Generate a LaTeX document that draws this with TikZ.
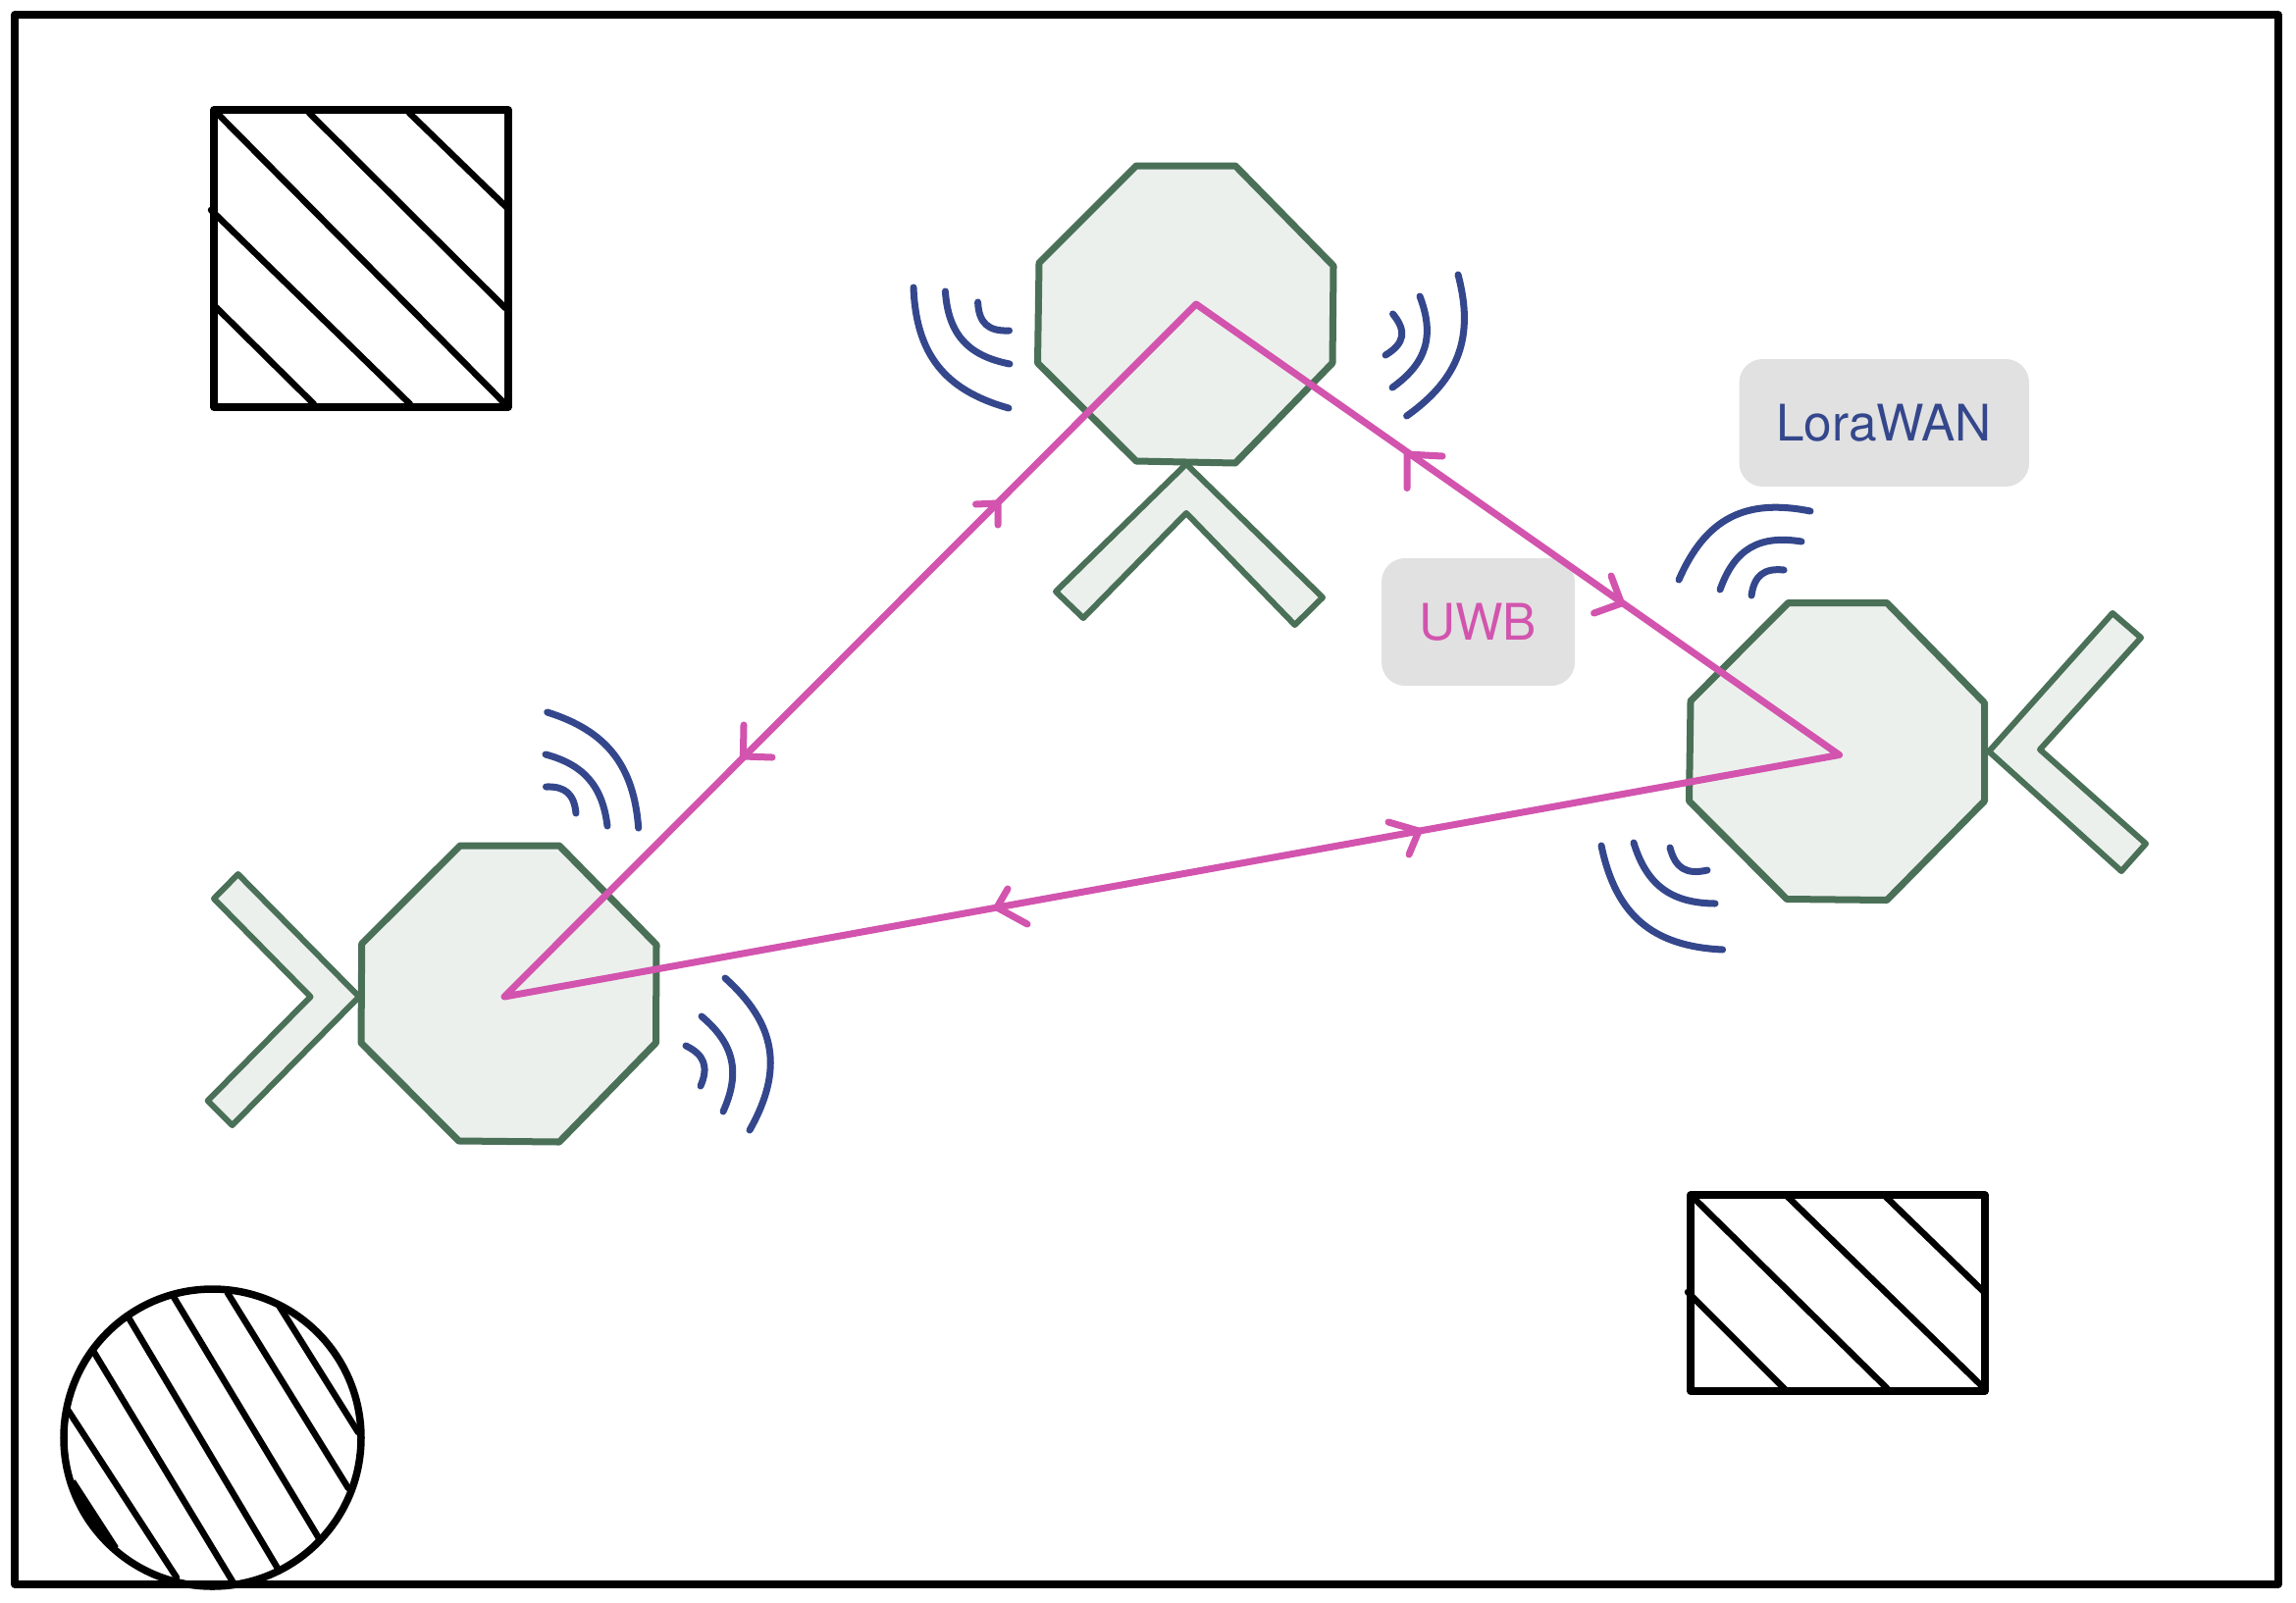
\documentclass[tikz,border=0pt]{standalone}
\usepackage{fontspec}
\setmainfont{TeX Gyre Heros}
\usetikzlibrary{calc}
\definecolor{gstroke}{HTML}{4A7058}
\definecolor{gfill}{HTML}{ECF0EC}
\definecolor{wblue}{HTML}{34478C}
\definecolor{upink}{HTML}{D254AE}
\definecolor{lblbox}{HTML}{E1E1E1}
\newcommand{\wavearc}[3]{\draw[wavestyle] (#1) .. controls ($(#1)!0.7!(#2)$) and ($(#3)!0.7!(#2)$) .. (#3);}
\newcommand{\barbs}[3]{\draw[linkstyle] (#1) -- (#2) (#1) -- (#3);}
\tikzset{
  framestyle/.style={draw=black,line width=0.075cm,line join=round,line cap=round},
  hatchstyle/.style={draw=black,line width=0.065cm,line cap=round},
  devstyle/.style={draw=gstroke,fill=gfill,line width=0.07cm,line join=round},
  forkstyle/.style={draw=gstroke,fill=gfill,line width=0.06cm,line join=round},
  wavestyle/.style={draw=wblue,line width=0.07cm,line cap=round},
  linkstyle/.style={draw=upink,line width=0.07cm,line cap=round,line join=round},
  lblstyle/.style={fill=lblbox,rounded corners=0.24cm},
  lbltext/.style={font=\fontsize{14.6pt}{16pt}\selectfont},
}
\begin{document}
\begin{tikzpicture}[x=0.01cm,y=-0.01cm]
\useasboundingbox (0,0) rectangle (2340,1633);
\fill[white] (0,0) rectangle (2340,1633);
% outer frame
\draw[framestyle] (15,15) rectangle (2322,1615);
% hatched square
\draw[framestyle] (218,112) rectangle (518,415);
\draw[hatchstyle] (218,112) -- (518,415);
\draw[hatchstyle] (315,115) -- (515,314);
\draw[hatchstyle] (417,115) -- (518,213);
\draw[hatchstyle] (215,214) -- (418,412);
\draw[hatchstyle] (220,313) -- (320,412);
% hatched rectangle
\draw[framestyle] (1723,1218) rectangle (2023,1418);
\draw[hatchstyle] (1723,1218) -- (1923,1415);
\draw[hatchstyle] (1820,1218) -- (2022,1415);
\draw[hatchstyle] (1922,1220) -- (2022,1317);
\draw[hatchstyle] (1720,1317) -- (1820,1417);
% hatched circle
\draw[framestyle] (216.5,1465.5) circle[radius=151.5];
\draw[hatchstyle] (285,1332) -- (365,1460);
\draw[hatchstyle] (232,1318) -- (355,1517);
\draw[hatchstyle] (177,1322) -- (325,1568);
\draw[hatchstyle] (131,1343) -- (282,1597);
\draw[hatchstyle] (95,1377) -- (237,1612);
\draw[hatchstyle] (69,1437) -- (180,1608);
\draw[hatchstyle,fill=black] (74,1510) -- (118,1578) .. controls (100,1560) and (84,1535) .. cycle;
% label boxes
\path[lblstyle] (1772.5,366) rectangle (2068,496);
\path[lblstyle] (1408,569) rectangle (1605,699);
\node[text=wblue,lbltext] (lora) at (1920,431.5) {LoraWAN};
\node[text=upink,lbltext] (uwb) at (1506,634.5) {UWB};
% left device
\draw[forkstyle] (366,1016) -- (242.6,891) -- (218,916) -- (316.5,1016) -- (211.7,1122) -- (236.7,1147) -- cycle;
\draw[devstyle] (469,862) -- (570,862) -- (669,963) -- (668.5,1063) -- (570,1164) -- (467.6,1163) -- (368,1063) -- (368.7,962) -- cycle;
% top device
\draw[forkstyle] (1209,473) -- (1076,603) -- (1104,630) -- (1209,523) -- (1319.6,637) -- (1348,609) -- cycle;
\draw[devstyle] (1158,169) -- (1259,169) -- (1359,271) -- (1358,370) -- (1259,472) -- (1158,470) -- (1057.5,370) -- (1059,268) -- cycle;
% right device
\draw[forkstyle] (2027,766) -- (2153,625) -- (2182,650) -- (2079,764) -- (2187,860) -- (2162,888) -- cycle;
\draw[devstyle] (1822.5,614.5) -- (1923,614.5) -- (2022.5,716.5) -- (2022.5,816.5) -- (1923,917.5) -- (1821,916.5) -- (1721.5,816.5) -- (1723,714.5) -- cycle;
% waves, left device
\wavearc{557.7,726}{644,753}{650.7,844}
\wavearc{556,769}{612,784}{619,842}
\wavearc{556.5,802}{584.4,801}{587,829}
\wavearc{739,997}{813.6,1064}{764,1152}
\wavearc{715,1036}{762.6,1076}{737,1133}
\wavearc{699,1066}{726,1079}{714,1107}
% waves, top device
\wavearc{931,293}{934.7,390}{1028,416}
\wavearc{963.4,297}{967.8,359}{1029,371}
\wavearc{996.6,308}{998,338.4}{1028.5,337}
\wavearc{1486,280}{1510,370}{1433.6,424}
\wavearc{1447,302}{1469,359.5}{1419,395}
\wavearc{1419.5,320}{1440,345}{1412,362}
% waves, right device
\wavearc{1711,591}{1749.8,502}{1845,521}
\wavearc{1753,601}{1774,542}{1836,552}
\wavearc{1785,607}{1789,578}{1818,581}
\wavearc{1632,862}{1653,963}{1755.6,968}
\wavearc{1665,859}{1683.7,920.4}{1748,921}
\wavearc{1702,864}{1709.6,894}{1740,887}
% links
\coordinate (nA) at (514,1016);
\coordinate (nB) at (1219,310);
\coordinate (nC) at (1874.5,769.5);
\draw[linkstyle] (nA) -- (nB) -- (nC) -- cycle;
\coordinate (t1) at (1017,513);
\coordinate (t2) at (757.4,771);
\coordinate (t3) at (1434,463);
\coordinate (t4) at (1652.5,615);
\coordinate (t5) at (1446,847);
\coordinate (t6) at (1016,925);
\barbs{t1}{994.5,514}{1017,535}
\barbs{t2}{758,739}{787,772}
\barbs{t3}{1470,465}{1434,497.5}
\barbs{t4}{1642,587}{1624.5,625}
\barbs{t5}{1415,838}{1436,871}
\barbs{t6}{1027,906}{1047,942}
\end{tikzpicture}
\end{document}
